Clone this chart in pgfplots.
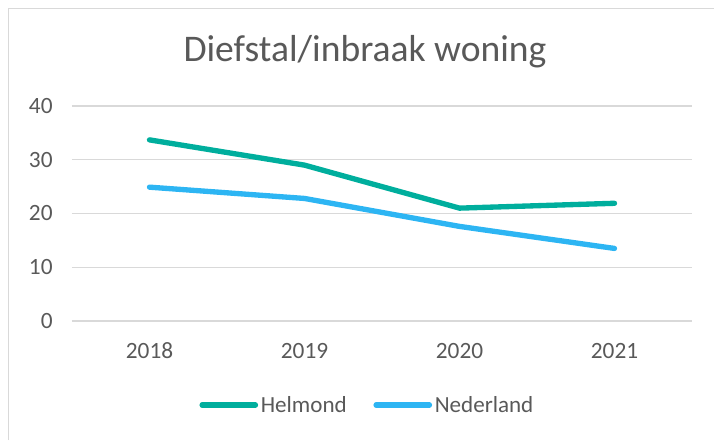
\documentclass[border=0pt]{standalone}
\usepackage{fontspec}
\setmainfont{Carlito}
\usepackage{pgfplots}
\pgfplotsset{compat=1.18}
\definecolor{helmond}{RGB}{0,174,157}
\definecolor{nederland}{RGB}{45,181,243}
\definecolor{txtgray}{RGB}{89,89,89}
\definecolor{gridgray}{RGB}{217,217,217}
\begin{document}
\begin{tikzpicture}
  \path[use as bounding box] (0pt,0pt) rectangle (535.5pt,330pt);
  \draw[gridgray, line width=1.2pt] (6.5pt,0pt) -- (6.5pt,323.5pt) -- (535.5pt,323.5pt);
  \node[txtgray, font=\fontsize{28.2}{31}\selectfont] at (273.75pt,291pt) {Diefstal/inbraak woning};
  \begin{axis}[
    at={(54pt,89.25pt)}, anchor=south west,
    scale only axis, width=465pt, height=161.25pt,
    xmin=-0.5, xmax=3.5, ymin=0, ymax=40,
    xtick={0,1,2,3}, xticklabels={2018,2019,2020,2021},
    ytick={0,10,20,30,40},
    axis line style={draw=none},
    major tick length=0pt,
    ymajorgrids, grid style={gridgray, line width=1pt},
    /pgf/number format/assume math mode=true,
    tick label style={txtgray, font=\fontsize{17.5}{20}\selectfont},
    xticklabel style={yshift=-13pt},
    yticklabel style={xshift=-11pt},
    legend style={at={(0.477,-0.391)}, anchor=center, draw=none, fill=none,
      text=txtgray, font=\fontsize{17.3}{20}\selectfont,
      /tikz/every even column/.append style={column sep=18pt}},
    legend columns=-1,
    legend image code/.code={\draw[#1, line width=4pt, line cap=round] (0pt,0pt) -- (40pt,0pt);},
    every axis plot/.append style={line width=4pt, line join=round, line cap=round, mark=none},
  ]
    \addplot[helmond] coordinates {(0,33.7) (1,29.0) (2,21.0) (3,21.9)};
    \addplot[nederland] coordinates {(0,24.9) (1,22.8) (2,17.6) (3,13.5)};
    \legend{Helmond, Nederland}
  \end{axis}
\end{tikzpicture}
\end{document}
